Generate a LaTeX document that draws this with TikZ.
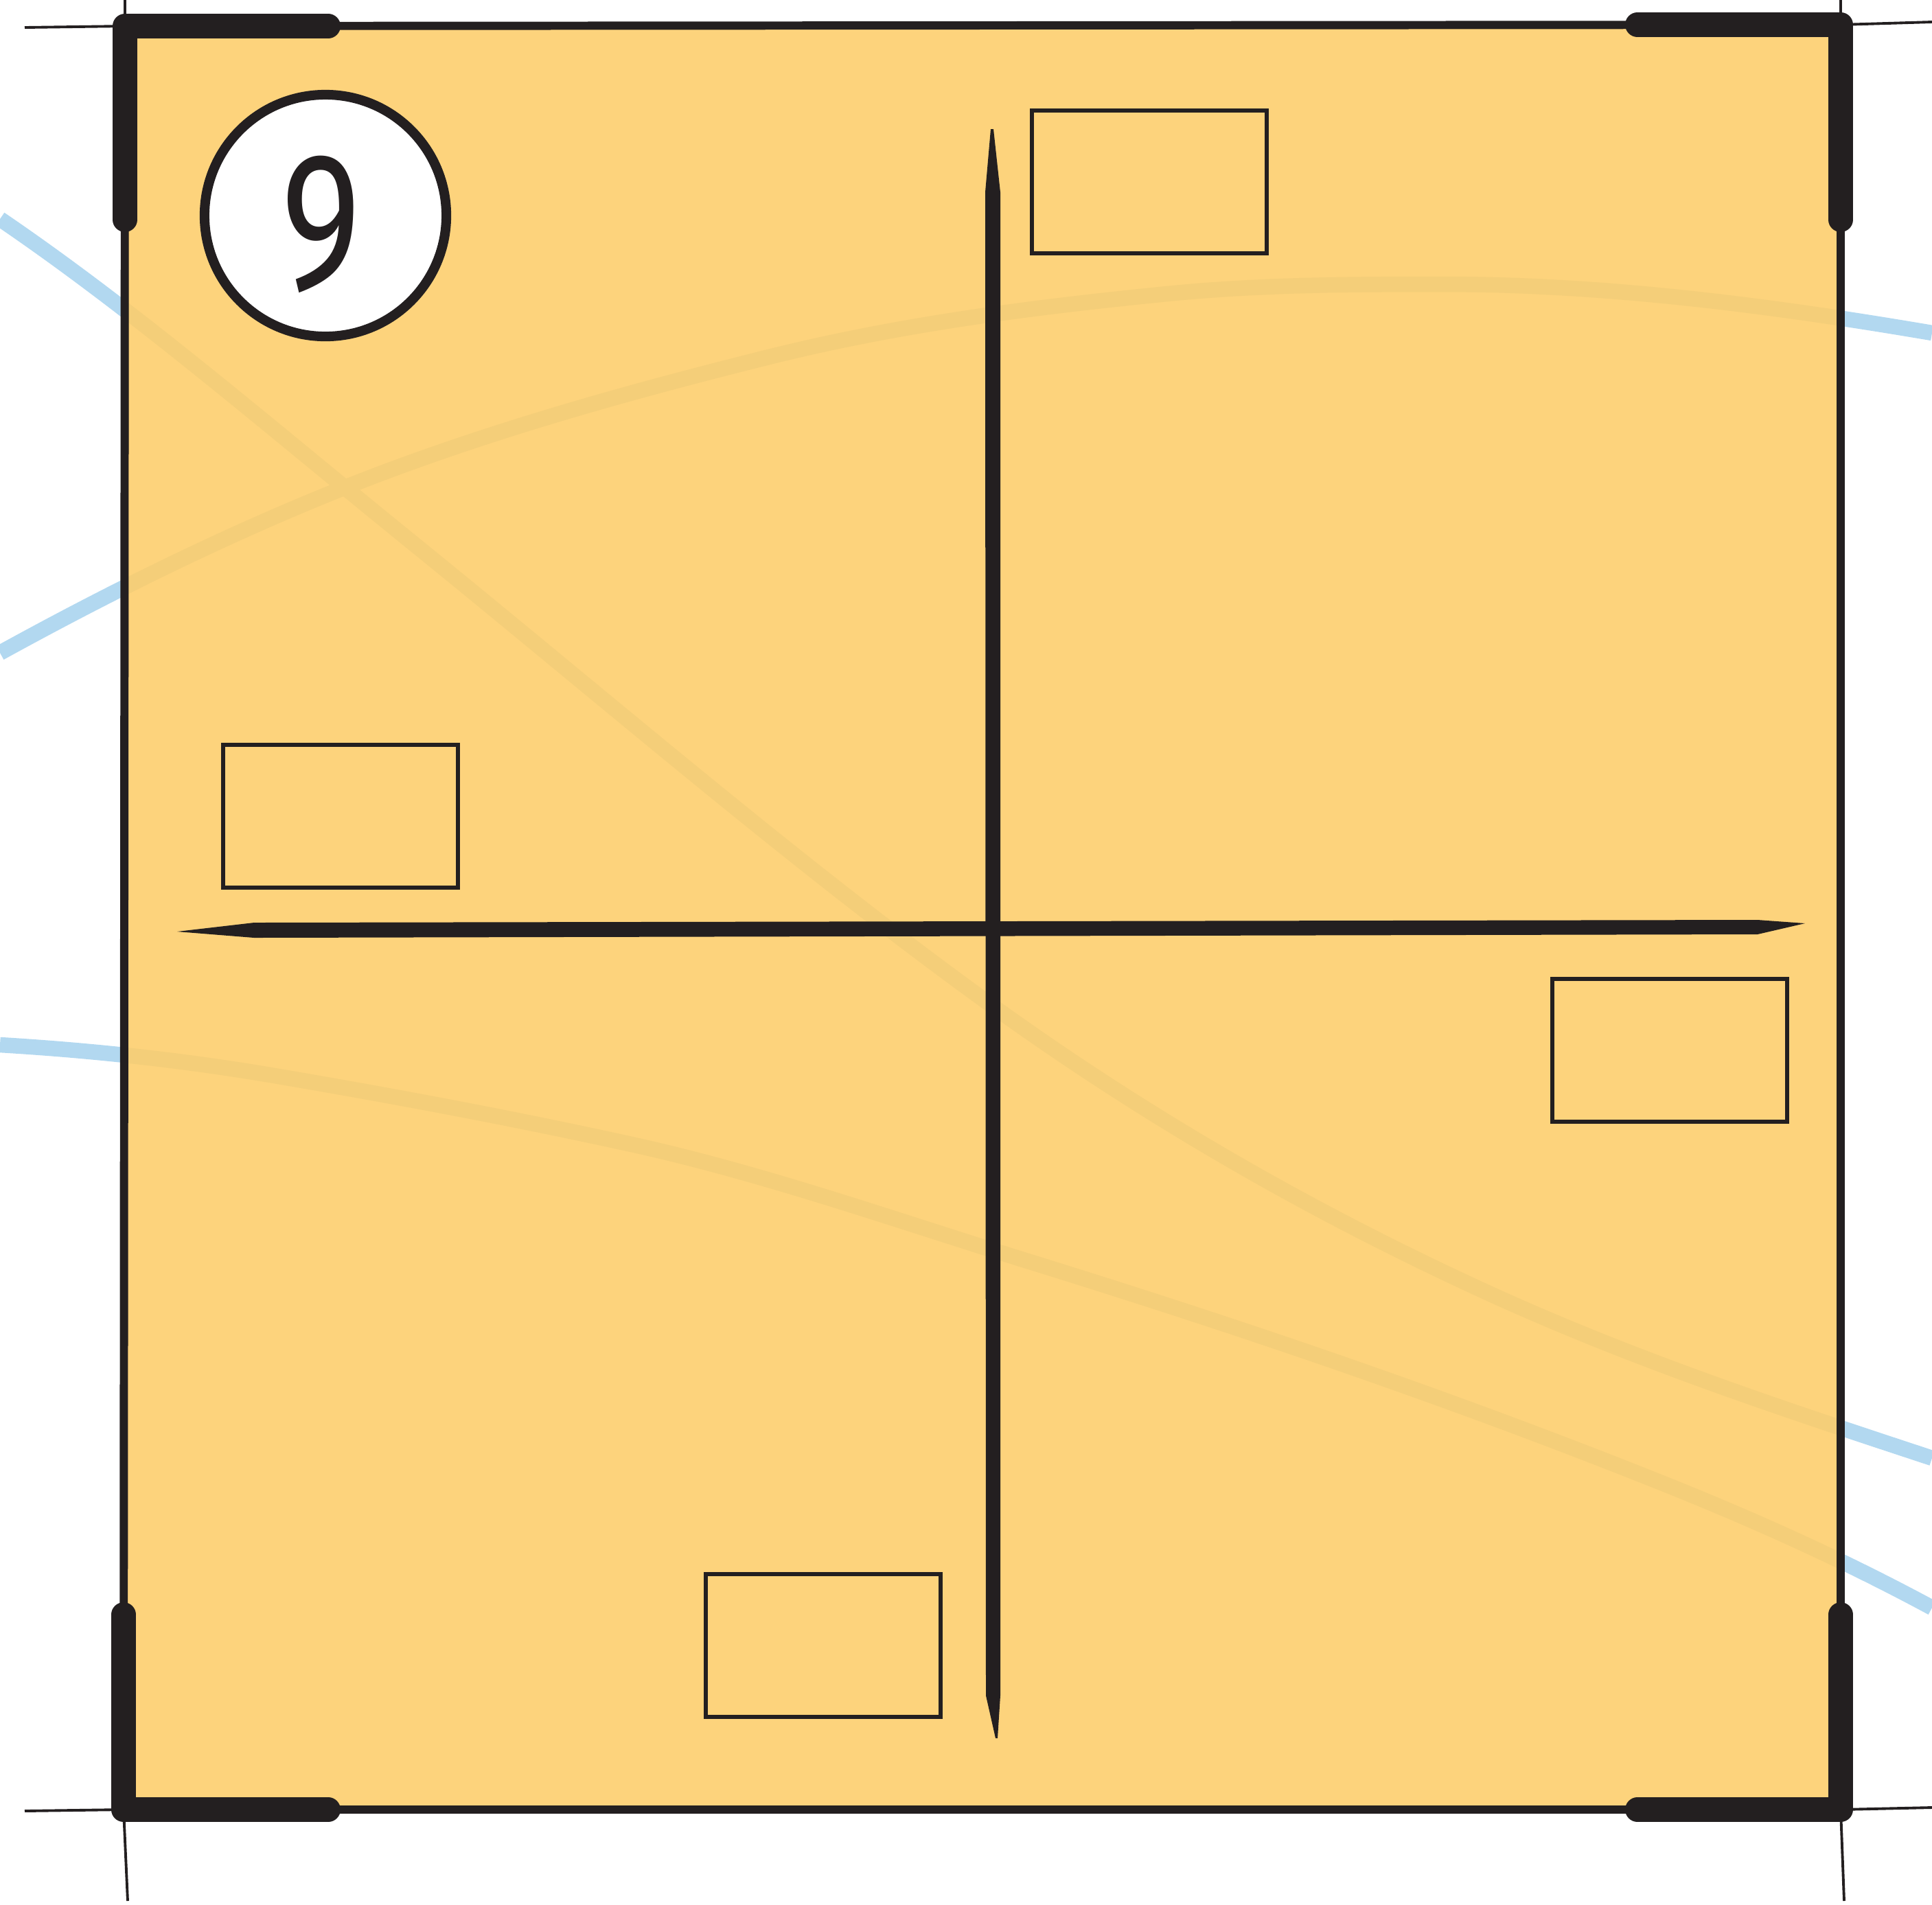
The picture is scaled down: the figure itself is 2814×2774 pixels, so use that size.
\documentclass[tikz,border=0pt]{standalone}
\usepackage{fontspec}
\newfontfamily\ninefont{Fira Sans}
\definecolor{paper}{RGB}{253,211,124}
\definecolor{tint}{RGB}{244,206,121}
\definecolor{sky}{RGB}{178,216,240}
\definecolor{ink}{RGB}{35,31,32}
\begin{document}
\begin{tikzpicture}[x=0.01cm,y=-0.01cm,
  skyline/.style={draw=sky,line width=6.4pt},
  tintline/.style={draw=tint,line width=6.4pt},
  edgeline/.style={draw=ink,line width=3.4pt},
  hairline/.style={draw=ink,line width=1.1pt},
  cornerbar/.style={draw=ink,line width=10.2pt,line cap=round,line join=round},
  slot/.style={draw=ink,line width=1.7pt,rectangle,minimum width=3.41cm,minimum height=2.07cm,inner sep=0pt},
  badge/.style={draw=ink,fill=white,line width=4pt,circle,minimum size=3.52cm,inner sep=0pt}]
\useasboundingbox (0,0) rectangle (2814,2774);

% blue curves behind the sheet
\draw[skyline] (0,319) .. controls (200,455) and (400,628) .. (600,790)
  .. controls (881.7,1018.2) and (1163.3,1262.2) .. (1445,1465)
  .. controls (1683.3,1636.6) and (1921.7,1770.4) .. (2160,1880)
  .. controls (2378,1980.3) and (2596,2052) .. (2814,2124);
\draw[skyline] (0,951) .. controls (200,841) and (400,745) .. (600,673)
  .. controls (773.3,610.6) and (946.7,563.3) .. (1120,520)
  .. controls (1313.3,471.7) and (1506.7,447.3) .. (1700,428)
  .. controls (1833.3,414.7) and (1966.7,414) .. (2100,414)
  .. controls (2338,414) and (2576,444.5) .. (2814,485);
\draw[skyline] (0,1522) .. controls (133.3,1530) and (266.7,1544.3) .. (400,1567)
  .. controls (573.3,1596.5) and (746.7,1628.9) .. (920,1667)
  .. controls (1113.3,1709.5) and (1306.7,1778.1) .. (1500,1838)
  .. controls (1806.7,1933.1) and (2113.3,2037.3) .. (2420,2160)
  .. controls (2551.3,2212.5) and (2682.7,2271.1) .. (2814,2342);

% sheet
\fill[paper] (182,38) rectangle (2681,2636);

% curves seen through the sheet
\begin{scope}
\clip (182,38) rectangle (2681,2636);
\draw[tintline] (0,319) .. controls (200,455) and (400,628) .. (600,790)
  .. controls (881.7,1018.2) and (1163.3,1262.2) .. (1445,1465)
  .. controls (1683.3,1636.6) and (1921.7,1770.4) .. (2160,1880)
  .. controls (2378,1980.3) and (2596,2052) .. (2814,2124);
\draw[tintline] (0,951) .. controls (200,841) and (400,745) .. (600,673)
  .. controls (773.3,610.6) and (946.7,563.3) .. (1120,520)
  .. controls (1313.3,471.7) and (1506.7,447.3) .. (1700,428)
  .. controls (1833.3,414.7) and (1966.7,414) .. (2100,414)
  .. controls (2338,414) and (2576,444.5) .. (2814,485);
\draw[tintline] (0,1522) .. controls (133.3,1530) and (266.7,1544.3) .. (400,1567)
  .. controls (573.3,1596.5) and (746.7,1628.9) .. (920,1667)
  .. controls (1113.3,1709.5) and (1306.7,1778.1) .. (1500,1838)
  .. controls (1806.7,1933.1) and (2113.3,2037.3) .. (2420,2160)
  .. controls (2551.3,2212.5) and (2682.7,2271.1) .. (2814,2342);
\end{scope}

% frame coordinates
\coordinate (tl) at (182,38);
\coordinate (tr) at (2681,36);
\coordinate (bl) at (180,2636);
\coordinate (br) at (2681,2636);

% long thin extensions
\draw[hairline] (36,40) -- (tl) -- (tr) -- (2814,32);
\draw[hairline] (36,2638) -- (bl) -- (br) -- (2814,2633);
\draw[hairline] (182,0) -- (tl) -- (bl) -- (186,2769);
\draw[hairline] (2681,0) -- (tr) -- (br) -- (2686,2769);

% brush edges of the sheet
\draw[edgeline] (tl) -- (tr);
\draw[edgeline] (bl) -- (br);
\draw[edgeline] (tl) -- (bl);
\draw[edgeline] (tr) -- (br);

% corner brackets
\draw[cornerbar] (182,320) -- (tl) -- (478,38);
\draw[cornerbar] (2385,36) -- (tr) -- (2681,320);
\draw[cornerbar] (180,2352) -- (bl) -- (478,2636);
\draw[cornerbar] (2385,2636) -- (br) -- (2681,2352);

% central cross
\fill[ink] (1443,188) -- (1447,188) -- (1457,280) -- (1457,2470) -- (1453,2532) -- (1450,2532) -- (1436,2470) -- (1435,280) -- cycle;
\fill[ink] (258,1357) -- (370,1344) -- (2560,1340) -- (2629,1345) -- (2560,1361) -- (370,1366) -- cycle;

% empty slots
\node[slot] (s1) at (1674,265) {};
\node[slot] (s2) at (496,1189) {};
\node[slot] (s3) at (2432,1530) {};
\node[slot] (s4) at (1199,2397) {};

% number badge
\node[badge] (badge) at (474,314) {};
\node[text=ink,font=\ninefont\fontsize{81}{81}\selectfont,inner sep=0pt,xscale=0.78] (nine) at (468,327) {9};
\end{tikzpicture}
\end{document}
